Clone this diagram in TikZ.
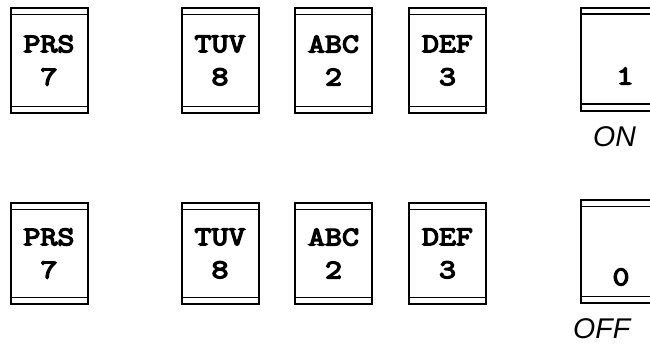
\documentclass[tikz,border=0pt]{standalone}
\usepackage{fontspec}
\newfontfamily\labfont{Liberation Sans}
\newfontfamily\keyfont{Latin Modern Mono}[FakeBold=5, FakeStretch=1.22]
\begin{document}
\begin{tikzpicture}[x=1pt,y=-1pt,
  keybox/.style={draw, line width=2pt, inner sep=0pt, minimum width=77pt,
    align=center, font=\keyfont\fontsize{27}{33}\selectfont,
    path picture={
      \draw[line width=1.5pt] ([yshift=-6.5pt]path picture bounding box.north west) -- ([yshift=-6.5pt]path picture bounding box.north east);
      \draw[line width=1.5pt] ([yshift=6.5pt]path picture bounding box.south west) -- ([yshift=6.5pt]path picture bounding box.south east);
    }},
  rowone/.style={minimum height=105pt},
  rowtwo/.style={minimum height=101pt},
  bignum/.style={font=\keyfont\fontsize{27}{33}\selectfont, inner sep=0pt},
  lab/.style={font=\labfont\itshape\fontsize{28.5}{28.5}\selectfont, inner sep=0pt, anchor=base west}]
\useasboundingbox (0,0) rectangle (650,343);
\clip (0,0) rectangle (650,343);
% row 1
\node[keybox,rowone] (prs1) at (49,60.5) {PRS\\7};
\node[keybox,rowone] (tuv1) at (220,60.5) {TUV\\8};
\node[keybox,rowone] (abc1) at (333.5,60.5) {ABC\\2};
\node[keybox,rowone] (def1) at (447.5,60.5) {DEF\\3};
\node[keybox,minimum width=90pt,minimum height=103pt] (on) at (626,59) {};
\node[bignum] (one) at (625,76) {1};
\node[lab] (onlab) at (593,146) {ON};
% row 2
\node[keybox,rowtwo] (prs2) at (49,253.5) {PRS\\7};
\node[keybox,rowtwo] (tuv2) at (220,253.5) {TUV\\8};
\node[keybox,rowtwo] (abc2) at (333.5,253.5) {ABC\\2};
\node[keybox,rowtwo] (def2) at (447.5,253.5) {DEF\\3};
\node[keybox,minimum width=90pt,minimum height=103pt] (off) at (626,251.5) {};
\node[bignum] (zero) at (621,277) {0};
\node[lab] (offlab) at (573,338) {OFF};
\end{tikzpicture}
\end{document}
